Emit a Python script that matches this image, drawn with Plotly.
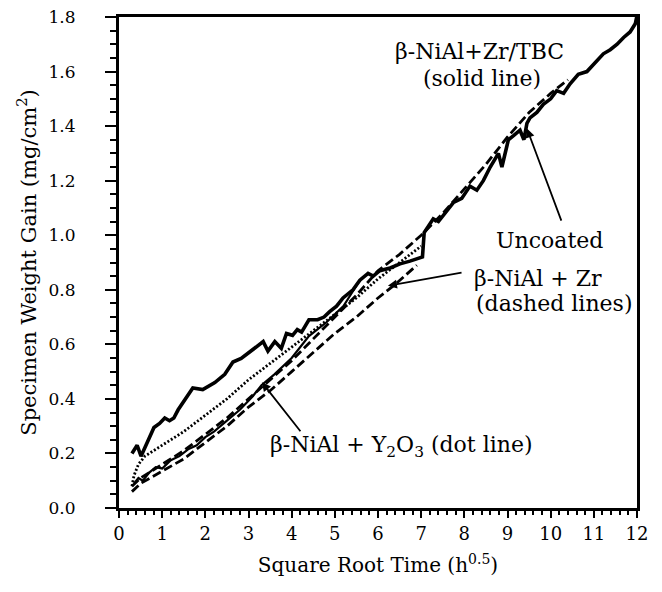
import plotly.graph_objects as go

# ---- data ----
tbc_x = [0.3, 0.42, 0.51, 0.67, 0.81, 0.94, 1.06, 1.17, 1.27, 1.37, 1.52, 1.71, 1.94, 2.22, 2.45,
         2.64, 2.83, 3.07, 3.34, 3.45, 3.61, 3.76, 3.88, 4.02, 4.13, 4.23, 4.40, 4.60, 4.75, 4.88,
         5.04, 5.19, 5.42, 5.58, 5.77, 5.89, 6.04, 6.28, 6.51, 6.74, 7.03, 7.07, 7.28, 7.40, 7.59,
         7.75, 7.94, 8.13, 8.29, 8.44, 8.60, 8.79, 8.87, 9.02, 9.14, 9.29, 9.38, 9.45, 9.52, 9.68,
         9.83, 10.0, 10.14, 10.3, 10.45, 10.64, 10.84, 11.03, 11.22, 11.38, 11.54, 11.69, 11.84,
         11.96, 12.0]
tbc_y = [0.20, 0.23, 0.19, 0.25, 0.295, 0.31, 0.33, 0.32, 0.33, 0.36, 0.395, 0.44, 0.434, 0.46, 0.49,
         0.535, 0.548, 0.578, 0.61, 0.575, 0.61, 0.585, 0.64, 0.633, 0.654, 0.645, 0.69, 0.69, 0.70, 0.72,
         0.74, 0.77, 0.80, 0.835, 0.86, 0.85, 0.87, 0.88, 0.895, 0.905, 0.92, 1.01, 1.06, 1.05, 1.09,
         1.12, 1.135, 1.18, 1.165, 1.20, 1.25, 1.30, 1.25, 1.35, 1.365, 1.385, 1.35, 1.41, 1.43, 1.45,
         1.48, 1.50, 1.53, 1.52, 1.555, 1.59, 1.60, 1.635, 1.665, 1.68, 1.70, 1.725, 1.745,
         1.775, 1.805]

uncoated_x = [0.35, 0.45, 0.55, 0.7, 0.85, 1.0, 1.2, 1.4, 1.6, 1.8, 2.0, 2.2, 2.5, 2.8, 3.1, 3.3,
              3.6, 4.0, 4.4, 4.8, 5.2, 5.58]
uncoated_y = [0.09, 0.11, 0.10, 0.13, 0.15, 0.145, 0.175, 0.19, 0.215, 0.23, 0.26, 0.28, 0.32, 0.36,
              0.41, 0.45, 0.49, 0.55, 0.63, 0.68, 0.74, 0.835]

zr1_x = [0.3, 0.5, 1.0, 1.5, 2.0, 2.5, 3.0, 3.5, 4.0, 4.5, 5.0, 5.5, 6.0, 6.5, 7.0, 7.5, 8.0, 8.5,
         9.0, 9.5, 10.0, 10.4]
zr1_y = [0.08, 0.11, 0.16, 0.21, 0.27, 0.33, 0.40, 0.47, 0.54, 0.62, 0.70, 0.78, 0.87, 0.93, 1.00,
         1.08, 1.17, 1.26, 1.36, 1.45, 1.52, 1.57]

zr2_x = [0.3, 0.5, 1.0, 1.5, 2.0, 2.5, 3.0, 3.5, 4.0, 4.5, 5.0, 5.5, 6.0, 6.4, 6.9]
zr2_y = [0.06, 0.09, 0.135, 0.18, 0.24, 0.30, 0.37, 0.43, 0.50, 0.57, 0.64, 0.70, 0.77, 0.82, 0.89]

y2o3_x = [0.3, 0.35, 0.45, 0.6, 0.8, 1.0, 1.5, 2.0, 2.5, 3.0, 3.5, 4.0, 4.5, 5.0, 5.5, 6.0, 6.5, 7.0]
y2o3_y = [0.08, 0.12, 0.16, 0.19, 0.21, 0.23, 0.28, 0.34, 0.40, 0.47, 0.53, 0.59, 0.65, 0.71, 0.77,
          0.84, 0.90, 0.96]

x_ticks = list(range(0, 13))
y_ticks = [0.0, 0.2, 0.4, 0.6, 0.8, 1.0, 1.2, 1.4, 1.6, 1.8]

FONT = "DejaVu Serif"

fig = go.Figure()
fig.add_trace(go.Scatter(x=zr2_x, y=zr2_y, mode="lines",
                         line=dict(color="black", width=2.8, dash="9px,4px"), name="β-NiAl + Zr (2)"))
fig.add_trace(go.Scatter(x=zr1_x, y=zr1_y, mode="lines",
                         line=dict(color="black", width=2.8, dash="9px,4px"), name="β-NiAl + Zr (1)"))
fig.add_trace(go.Scatter(x=y2o3_x, y=y2o3_y, mode="lines",
                         line=dict(color="black", width=2.8, dash="2px,2px"), name="β-NiAl + Y2O3"))
fig.add_trace(go.Scatter(x=uncoated_x, y=uncoated_y, mode="lines",
                         line=dict(color="black", width=2.2), name="Uncoated"))
fig.add_trace(go.Scatter(x=tbc_x, y=tbc_y, mode="lines",
                         line=dict(color="black", width=3.6), name="β-NiAl+Zr/TBC"))

txt = dict(family=FONT, size=22, color="black")
annotations = [
    dict(x=8.36, y=1.675, text="β-NiAl+Zr/TBC", showarrow=False, font=txt),
    dict(x=8.40, y=1.575, text="(solid line)", showarrow=False, font=txt),
    dict(x=9.97, y=0.98, text="Uncoated", showarrow=False, font=txt),
    dict(x=9.71, y=0.842, text="β-NiAl + Zr", showarrow=False, font=txt),
    dict(x=10.08, y=0.75, text="(dashed lines)", showarrow=False, font=txt),
    dict(x=6.55, y=0.225, text="β-NiAl + Y<sub>2</sub>O<sub>3</sub> (dot line)", showarrow=False, font=txt),
    # arrows
    dict(x=9.45, y=1.391, ax=10.26, ay=1.048, axref="x", ayref="y", xref="x", yref="y", text="",
         showarrow=True, arrowhead=2, arrowsize=1, arrowwidth=1.8, arrowcolor="black"),
    dict(x=6.23, y=0.815, ax=7.97, ay=0.864, axref="x", ayref="y", xref="x", yref="y", text="",
         showarrow=True, arrowhead=2, arrowsize=1, arrowwidth=1.8, arrowcolor="black"),
    dict(x=3.31, y=0.461, ax=4.23, ay=0.276, axref="x", ayref="y", xref="x", yref="y", text="",
         showarrow=True, arrowhead=2, arrowsize=1, arrowwidth=1.8, arrowcolor="black"),
]

# the page body adds an 8px offset, so the figure is sized/margined to compensate
fig.update_layout(
    width=646, height=576,
    margin=dict(l=111, r=17, t=9, b=76),
    paper_bgcolor="white", plot_bgcolor="white",
    showlegend=False,
    font=dict(family=FONT, color="black"),
    annotations=annotations,
)
fig.update_xaxes(
    range=[0, 12], tickvals=x_ticks, ticktext=[str(v) for v in x_ticks],
    showgrid=False, zeroline=False, automargin=False,
    showline=True, linecolor="black", linewidth=3, mirror=True,
    ticks="outside", ticklen=7, tickwidth=2, tickcolor="black",
    ticklabeloverflow="allow",
    minor=dict(dtick=0.2, ticks="outside", ticklen=4, tickwidth=1.5, tickcolor="black"),
    tickfont=dict(family=FONT, size=18, color="black"),
    title=dict(text="Square Root Time (h<sup>0.5</sup>)", font=dict(family=FONT, size=20, color="black"),
               standoff=16),
)
fig.update_yaxes(
    range=[0, 1.8], tickvals=y_ticks, ticktext=[f"{v:.1f}" for v in y_ticks],
    showgrid=False, zeroline=False, automargin=False,
    showline=True, linecolor="black", linewidth=3, mirror=True,
    ticks="outside", ticklen=11, tickwidth=2, tickcolor="black",
    ticklabelstandoff=26, ticklabeloverflow="allow",
    minor=dict(dtick=0.05, ticks="outside", ticklen=6, tickwidth=1.5, tickcolor="black"),
    tickfont=dict(family=FONT, size=17, color="black"),
    title=dict(text="Specimen Weight Gain (mg/cm<sup>2</sup>)", font=dict(family=FONT, size=21, color="black"),
               standoff=7),
)

fig.write_html("out.html")
